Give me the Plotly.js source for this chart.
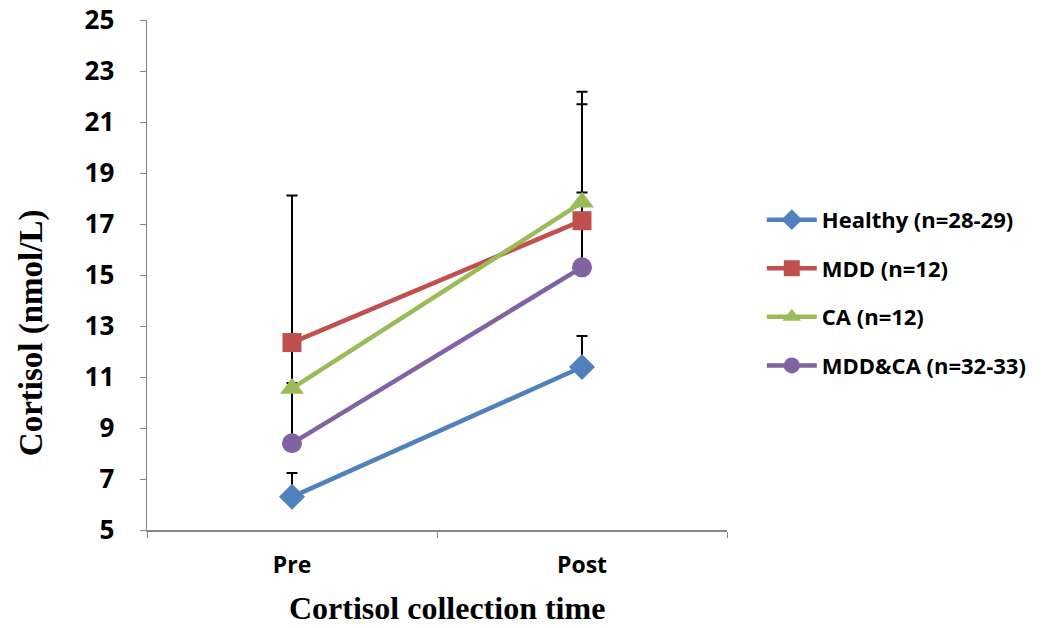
<!DOCTYPE html>
<html>
<head>
<meta charset="utf-8">
<script src="https://cdn.plot.ly/plotly-3.0.1.min.js"></script>
<style>html,body{margin:0;padding:0;background:#fff;}#chart{width:1064px;height:628px;}</style>
</head>
<body>
<div id="chart"></div>
<script>
const categories = ["Pre", "Post"];
const seriesNames = ["Healthy (n=28-29)", "MDD (n=12)", "CA (n=12)", "MDD&CA (n=32-33)"];
const healthy = [6.3, 11.39];
const mdd = [12.35, 17.13];
const ca = [10.55, 17.85];
const mddca = [8.4, 15.3];
const healthyErr = [0.94, 1.22];
const mddErr = [5.77, 5.06];
const caErr = [1.9, 3.85];
const mddcaErr = [2.36, 2.94];
const yTicks = [5, 7, 9, 11, 13, 15, 17, 19, 21, 23, 25];
const xTitle = "Cortisol collection time";
const yTitle = "Cortisol (nmol/L)";

const colors = ["#4F81BD", "#C0504D", "#9BBB59", "#8064A2"];
const symbols = ["diamond", "square", "triangle-up", "circle"];
const sizes = [20, 19, 21, 20];
const values = [healthy, mdd, ca, mddca];
const errs = [healthyErr, mddErr, caErr, mddcaErr];

// error bars first (drawn below every line and marker)
const errTraces = values.map((v, i) => ({
  type: "scatter",
  mode: "markers",
  x: categories,
  y: v,
  showlegend: false,
  hoverinfo: "skip",
  marker: {size: 1, color: "rgba(0,0,0,0)"},
  error_y: {type: "data", symmetric: false, array: errs[i], arrayminus: [0, 0],
            color: "#000", thickness: 2, width: 5.5}
}));

const lineTraces = values.map((v, i) => ({
  type: "scatter",
  mode: "lines+markers",
  x: categories,
  y: v,
  name: seriesNames[i],
  legendgroup: "g" + i,
  line: {color: colors[i], width: 4.5},
  marker: {symbol: symbols[i], size: sizes[i], color: colors[i]}
}));

const titleFont = {family: "Liberation Serif, serif", size: 32, color: "#000", weight: "bold"};

const layout = {
  width: 1064, height: 628,
  margin: {l: 147, r: 337, t: 20, b: 98},
  paper_bgcolor: "#fff", plot_bgcolor: "#fff",
  showlegend: true,
  legend: {
    x: 1.06, y: 0.465, xanchor: "left", yanchor: "middle",
    font: {family: "Open Sans, sans-serif", size: 22, color: "#000", weight: "bold"},
    tracegroupgap: 17, itemwidth: 50
  },
  xaxis: {
    type: "category", range: [-0.5, 1.5],
    showline: true, linecolor: "#868686", linewidth: 1.5,
    ticks: "outside", ticklen: 6, tickcolor: "#868686", tickson: "boundaries",
    showgrid: false, zeroline: false,
    tickfont: {family: "Open Sans, sans-serif", size: 23, color: "#000", weight: "bold"},
    ticklabelstandoff: 14
  },
  yaxis: {
    range: [5, 25], tickvals: yTicks, ticktext: yTicks.map(String),
    showline: true, linecolor: "#868686", linewidth: 1.5,
    ticks: "outside", ticklen: 6, tickcolor: "#868686",
    showgrid: false, zeroline: false,
    tickfont: {family: "Open Sans, sans-serif", size: 26, color: "#000", weight: "bold"},
    ticklabelstandoff: 20
  },
  annotations: [
    {text: xTitle, xref: "paper", yref: "paper", x: 0.517, y: -0.153,
     xanchor: "center", yanchor: "middle", showarrow: false, font: titleFont},
    {text: yTitle, xref: "paper", yref: "paper", x: -0.2, y: 0.386, textangle: -90,
     xanchor: "center", yanchor: "middle", showarrow: false,
     font: Object.assign({}, titleFont, {size: 33})}
  ]
};

Plotly.newPlot("chart", errTraces.concat(lineTraces), layout, {displayModeBar: false, staticPlot: true});
</script>
</body>
</html>
